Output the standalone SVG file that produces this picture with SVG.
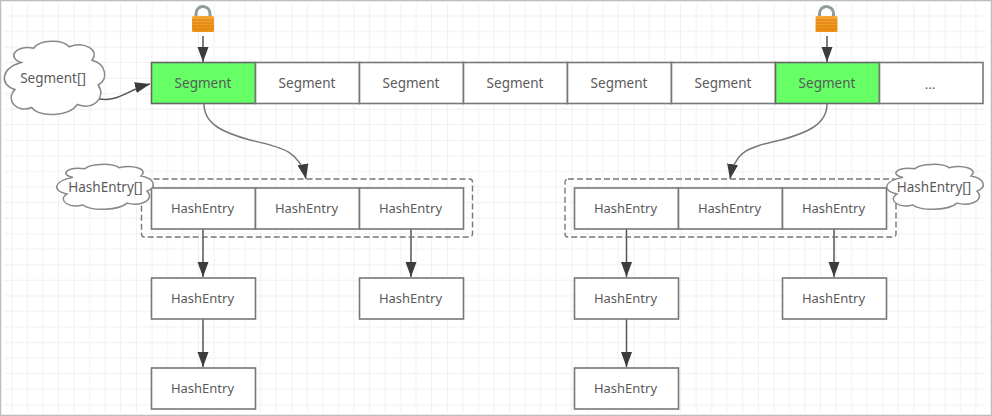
<svg xmlns="http://www.w3.org/2000/svg" width="992" height="416" viewBox="0 0 992 416">
<style>
.box{fill:#fff;stroke:#777;stroke-width:1.6}
.hot{fill:#66ff66;stroke:#666;stroke-width:1.6}
.t{font-family:"Noto Sans","Open Sans",sans-serif;font-size:13px;fill:#5a5a5a;text-anchor:middle}
.s{font-size:13.5px}
.cloud{fill:#fff;stroke:#888;stroke-width:1.5}
.dash{fill:none;stroke:#777;stroke-width:1.4;stroke-dasharray:6 3}
.c{fill:none;stroke:#555;stroke-width:1.5}
.cc{fill:none;stroke:#777;stroke-width:1.5}
</style>
<defs>
<pattern id="grid" width="62.2" height="62.2" patternUnits="userSpaceOnUse" x="11.5" y="15.5">
<path d="M.5 0V62.2M16 0V62.2M31.5 0V62.2M47 0V62.2M0 .5H62.2M0 16H62.2M0 31.5H62.2M0 47H62.2" fill="none" stroke="#f0f0f0" stroke-width="1"/>
</pattern>
<marker id="a" markerWidth="16" markerHeight="12" refX="15" refY="5.5" orient="auto" markerUnits="userSpaceOnUse">
<path d="M0 0L15 5.5L0 11Z" fill="#3c3c3c"/>
</marker>
<linearGradient id="body" x1="0" y1="0" x2="0" y2="1">
<stop offset="0" stop-color="#f7a733"/><stop offset="1" stop-color="#ee8f14"/>
</linearGradient>
<g id="lock">
<path d="M-7 16V13.500A7 7 0 0 1 7 13.500V16" fill="none" stroke="#8f9c98" stroke-width="3"/>
<rect x="-11" y="16" width="22" height="16" rx="1.500" fill="url(#body)"/>
<path d="M-10.500 20H10.500M-10.500 23H10.500M-10.500 26H10.500M-10.500 29H10.500" stroke="#d77f12" stroke-width="1"/>
</g>
<path id="cl" vector-effect="non-scaling-stroke" d="M18 28C4 22 12 4 30 9C36 -3 58 -3 64 7C78 0 94 10 86 25C100 30 102 50 92 58C100 74 88 92 72 84C64 100 36 102 28 88C14 96 2 78 12 64C-3 58 -2 36 18 28Z"/>
</defs>
<rect width="992" height="416" fill="#fff"/>
<rect x="4" y="4" width="982" height="408" fill="url(#grid)"/>
<path d="M.5 415V.5H991.500V415.500H0" fill="none" stroke="#bdbdbd" stroke-width="1.500"/>

<g id="connectors">
<path class="c" d="M94 98C118 104 126 90 150 84" marker-end="url(#a)"/>
<path class="c" d="M203 36V62" marker-end="url(#a)"/>
<path class="c" d="M827 36V62" marker-end="url(#a)"/>
<path class="cc" d="M204 104C204 125 225 133 250 140C280 147 300 150 306 179" marker-end="url(#a)"/>
<path class="cc" d="M827 104C827 125 806 133 781 140C750 147 735 150 730 179" marker-end="url(#a)"/>
<path class="c" d="M203 229V277" marker-end="url(#a)"/>
<path class="c" d="M411 229V277" marker-end="url(#a)"/>
<path class="c" d="M626.500 229V277" marker-end="url(#a)"/>
<path class="c" d="M834 229V277" marker-end="url(#a)"/>
<path class="c" d="M203 319V367" marker-end="url(#a)"/>
<path class="c" d="M626.500 319V367" marker-end="url(#a)"/>
</g>

<g id="lock-left"><use href="#lock" x="203"/></g>
<g id="lock-right"><use href="#lock" x="826.500"/></g>

<g id="group-left"><rect class="dash" x="141.500" y="179" width="331" height="58" rx="3"/></g>
<g id="group-right"><rect class="dash" x="565" y="179" width="331" height="58" rx="3"/></g>

<g id="cloud-segment"><use href="#cl" class="cloud" transform="translate(2.500 41.500) scale(1.04 .75)"/><text class="t s" x="53" y="83">Segment[]</text></g>

<g id="seg-1"><rect class="hot" x="151.500" y="62.500" width="104" height="41"/><text class="t s" x="203" y="88">Segment</text></g>
<g id="seg-2"><rect class="box" x="255.500" y="62.500" width="104" height="41"/><text class="t s" x="307" y="88">Segment</text></g>
<g id="seg-3"><rect class="box" x="359.500" y="62.500" width="104" height="41"/><text class="t s" x="411" y="88">Segment</text></g>
<g id="seg-4"><rect class="box" x="463.500" y="62.500" width="104" height="41"/><text class="t s" x="515" y="88">Segment</text></g>
<g id="seg-5"><rect class="box" x="567.500" y="62.500" width="104" height="41"/><text class="t s" x="619" y="88">Segment</text></g>
<g id="seg-6"><rect class="box" x="671.500" y="62.500" width="104" height="41"/><text class="t s" x="723" y="88">Segment</text></g>
<g id="seg-7"><rect class="hot" x="775.500" y="62.500" width="104" height="41"/><text class="t s" x="827" y="88">Segment</text></g>
<g id="seg-8"><rect class="box" x="879.500" y="62.500" width="103.500" height="41"/><text class="t" x="930" y="89">...</text></g>

<g id="he-l1"><rect class="box" x="151.500" y="188" width="104" height="41"/><text class="t" x="202.500" y="213">HashEntry</text></g>
<g id="he-l2"><rect class="box" x="255.500" y="188" width="104" height="41"/><text class="t" x="306.500" y="213">HashEntry</text></g>
<g id="he-l3"><rect class="box" x="359.500" y="188" width="104" height="41"/><text class="t" x="410.500" y="213">HashEntry</text></g>
<g id="he-r1"><rect class="box" x="574.500" y="188" width="104" height="41"/><text class="t" x="625.500" y="213">HashEntry</text></g>
<g id="he-r2"><rect class="box" x="678.500" y="188" width="104" height="41"/><text class="t" x="729.500" y="213">HashEntry</text></g>
<g id="he-r3"><rect class="box" x="782.500" y="188" width="104" height="41"/><text class="t" x="833.500" y="213">HashEntry</text></g>

<g id="he-l4"><rect class="box" x="151.500" y="278" width="104" height="41"/><text class="t" x="202.500" y="303">HashEntry</text></g>
<g id="he-l5"><rect class="box" x="151.500" y="368" width="104" height="41"/><text class="t" x="202.500" y="393">HashEntry</text></g>
<g id="he-l6"><rect class="box" x="359.500" y="278" width="104" height="41"/><text class="t" x="410.500" y="303">HashEntry</text></g>
<g id="he-r4"><rect class="box" x="574.500" y="278" width="104" height="41"/><text class="t" x="625.500" y="303">HashEntry</text></g>
<g id="he-r5"><rect class="box" x="574.500" y="368" width="104" height="41"/><text class="t" x="625.500" y="393">HashEntry</text></g>
<g id="he-r6"><rect class="box" x="782.500" y="278" width="104" height="41"/><text class="t" x="833.500" y="303">HashEntry</text></g>

<g id="cloud-he-left"><use href="#cl" class="cloud" transform="translate(55 164.500) scale(1 .46)"/><text class="t s" x="105.500" y="192">HashEntry[]</text></g>
<g id="cloud-he-right"><use href="#cl" class="cloud" transform="translate(885 164.500) scale(1 .46)"/><text class="t s" x="934" y="192">HashEntry[]</text></g>
</svg>
